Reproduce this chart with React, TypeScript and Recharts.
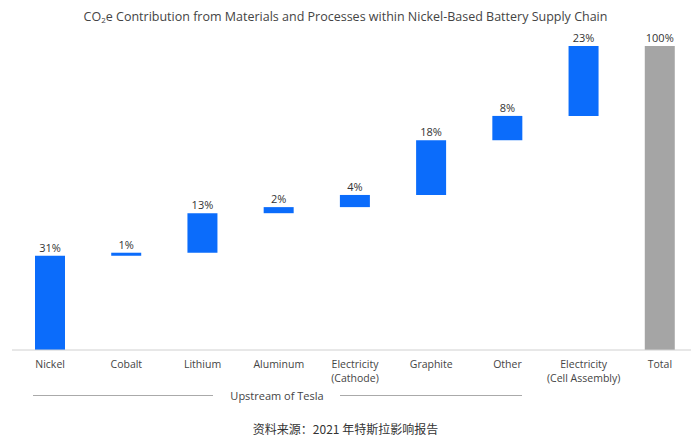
import React from "react";
import { BarChart, Bar, XAxis, YAxis, Cell, LabelList } from "recharts";

const categories = [
  "Nickel",
  "Cobalt",
  "Lithium",
  "Aluminum",
  "Electricity\n(Cathode)",
  "Graphite",
  "Other",
  "Electricity\n(Cell Assembly)",
  "Total",
];
const contributions = [31, 1, 13, 2, 4, 18, 8, 23, 100];

const BLUE = "#0b6cfb";
const GREY = "#a5a5a5";
const FONT = "'Open Sans', 'Noto Sans', sans-serif";

// waterfall: invisible base + visible step
let running = 0;
const data = categories.map((name, i) => {
  const isTotal = i === categories.length - 1;
  const base = isTotal ? 0 : running;
  if (!isTotal) running += contributions[i];
  return { name, base, value: contributions[i], isTotal };
});

const CategoryTick = (props: any) => {
  const { x, y, payload } = props;
  const lines = String(payload.value).split("\n");
  return (
    <g>
      {lines.map((l, i) => (
        <text key={i} x={x} y={y + 18 + i * 14} textAnchor="middle" fill="#444" fontSize={10.5} fontFamily={FONT}>
          {l}
        </text>
      ))}
    </g>
  );
};

const App = () => (
  <div style={{ position: "absolute", left: 0, top: 0, width: 691, height: 442, overflow: "hidden", background: "#fff", fontFamily: FONT }}>
    <div style={{ position: "absolute", top: 8, left: 0, width: 691, textAlign: "center", fontSize: 12.5, color: "#444" }}>
      CO<sub style={{ fontSize: 8, verticalAlign: "-2px" }}>2</sub>e Contribution from Materials and Processes within Nickel-Based Battery Supply Chain
    </div>
    <BarChart
      width={698}
      height={442}
      data={data}
      margin={{ top: 46, right: 0, bottom: 62, left: 12 }}
      barCategoryGap={0}
    >
      <XAxis
        dataKey="name"
        interval={0}
        height={30}
        tickLine={false}
        tickSize={0}
        tickMargin={0}
        axisLine={{ stroke: "#d0d0d0" }}
        tick={<CategoryTick />}
        padding={{ left: 0, right: 0 }}
      />
      <YAxis hide domain={[0, 100]} allowDataOverflow />
      <Bar dataKey="base" stackId="w" fill="transparent" barSize={30} isAnimationActive={false} />
      <Bar dataKey="value" stackId="w" barSize={30} isAnimationActive={false}>
        {data.map((d, i) => (
          <Cell key={i} fill={d.isTotal ? GREY : BLUE} />
        ))}
        <LabelList
          dataKey="value"
          position="top"
          offset={4}
          formatter={(v: any) => `${v}%`}
          style={{ fontSize: 11, fill: "#333", fontFamily: FONT }}
        />
      </Bar>
    </BarChart>
    <div style={{ position: "absolute", left: 33, top: 395, width: 180, borderTop: "1px solid #aaa" }} />
    <div style={{ position: "absolute", left: 227, top: 388, width: 100, textAlign: "center", fontSize: 11, color: "#444" }}>
      Upstream of Tesla
    </div>
    <div style={{ position: "absolute", left: 340, top: 395, width: 182, borderTop: "1px solid #aaa" }} />
    <div style={{ position: "absolute", top: 420, left: 0, width: 691, textAlign: "center", fontSize: 12, color: "#333", fontFamily: "'Noto Sans CJK SC', sans-serif" }}>
      资料来源：2021 年特斯拉影响报告
    </div>
  </div>
);

export default App;
